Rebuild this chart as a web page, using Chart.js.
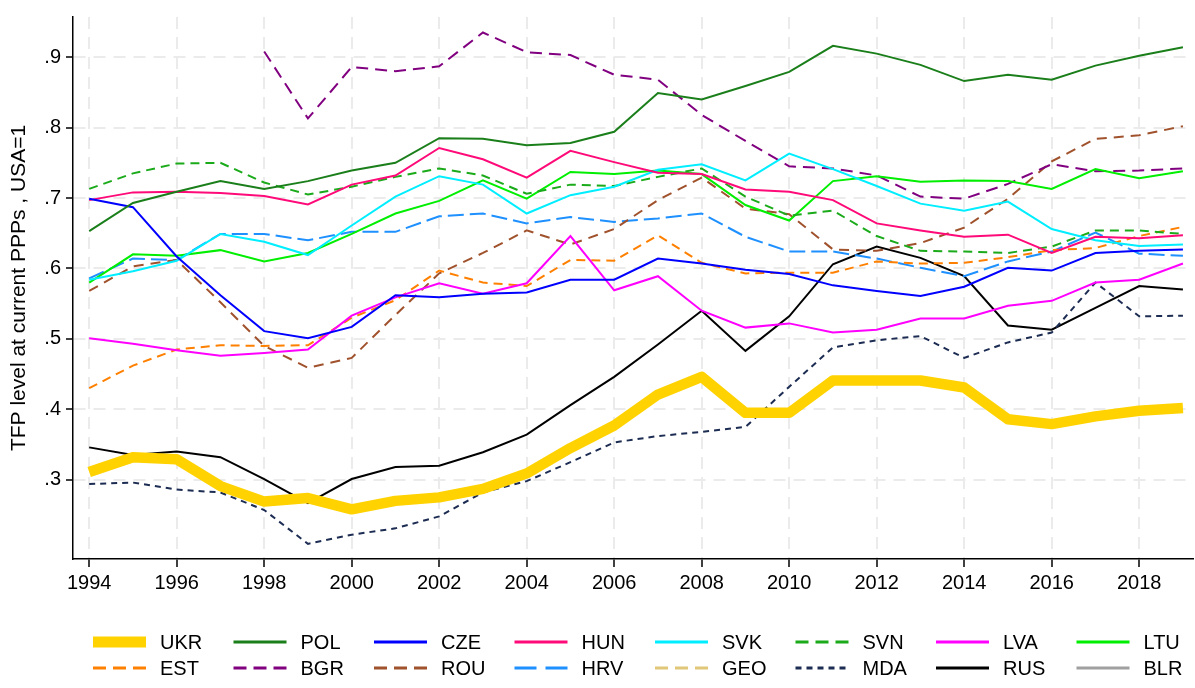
<!DOCTYPE html>
<html>
<head>
<meta charset="utf-8">
<script src="https://cdn.jsdelivr.net/npm/chart.js@4/dist/chart.umd.min.js"></script>
<style>
  body { margin: 0; background: #fff; }
  #wrap { width: 1195px; height: 688px; }
</style>
</head>
<body>
<div id="wrap"><canvas id="tfp" width="1195" height="688"></canvas></div>
<script>
// years and TFP levels (USA=1)
var years = [1994,1995,1996,1997,1998,1999,2000,2001,2002,2003,2004,2005,2006,
             2007,2008,2009,2010,2011,2012,2013,2014,2015,2016,2017,2018,2019];
var xTicks = [1994,1996,1998,2000,2002,2004,2006,2008,2010,2012,2014,2016,2018];
var yTicks = [0.3,0.4,0.5,0.6,0.7,0.8,0.9];

var ukr = [.311,.332,.329,.291,.269,.274,.258,.270,.275,.287,.309,.345,.377,.421,.446,.395,.395,.441,.441,.441,.431,.386,.379,.390,.398,.402];
var pol = [.653,.693,.709,.724,.713,.724,.739,.750,.785,.784,.775,.778,.794,.849,.840,.859,.879,.916,.905,.889,.866,.875,.868,.888,.902,.914];
var cze = [.699,.687,.617,.562,.511,.501,.517,.562,.559,.564,.566,.584,.584,.614,.607,.598,.592,.576,.568,.561,.574,.601,.597,.622,.625,.627];
var hun = [.697,.708,.709,.707,.703,.691,.719,.732,.771,.755,.729,.767,.751,.736,.734,.712,.709,.697,.664,.654,.645,.648,.622,.645,.643,.647];
var svk = [.584,.596,.611,.649,.638,.619,.661,.702,.731,.719,.678,.704,.716,.740,.748,.725,.763,.741,.717,.692,.682,.695,.656,.640,.632,.634];
var svn = [.713,.735,.749,.750,.722,.705,.716,.730,.742,.732,.706,.719,.717,.730,.742,.702,.675,.682,.646,.625,.624,.622,.631,.654,.654,.649];
var lva = [.501,.493,.484,.476,.480,.485,.533,.559,.579,.564,.579,.646,.569,.589,.540,.516,.522,.509,.513,.529,.529,.547,.554,.580,.584,.607];
var ltu = [.580,.620,.618,.626,.610,.622,.649,.678,.696,.725,.699,.737,.734,.739,.734,.690,.668,.724,.731,.723,.725,.724,.713,.741,.728,.738];
var est = [.430,.462,.485,.491,.490,.491,.530,.555,.597,.580,.575,.612,.611,.647,.608,.593,.594,.594,.610,.607,.608,.616,.626,.629,.646,.659];
var bgr = [null,null,null,null,.908,.813,.886,.880,.887,.935,.907,.903,.875,.868,.818,.781,.745,.742,.732,.702,.699,.720,.748,.738,.739,.742];
var rou = [.568,.603,.612,.552,.490,.459,.473,.534,.593,.622,.654,.634,.656,.697,.729,.685,.677,.627,.625,.636,.658,.699,.752,.784,.789,.802];
var hrv = [.586,.614,.612,.649,.649,.640,.652,.652,.674,.678,.664,.673,.666,.671,.678,.645,.624,.624,.614,.601,.589,.610,.624,.651,.621,.618];
var geo = [];
var mda = [.294,.296,.286,.282,.257,.209,.222,.231,.248,.282,.298,.325,.353,.362,.368,.375,.432,.488,.498,.504,.473,.495,.509,.580,.532,.533];
var rus = [.346,.335,.340,.332,.301,.267,.301,.318,.320,.339,.364,.406,.446,.492,.540,.483,.532,.606,.631,.615,.589,.519,.513,.544,.575,.570];
var blr = [];

var FONT = "'Liberation Sans', Arial, sans-serif";

function pts(vals) {
	var out = [];
	for (var i = 0; i < vals.length; i++) {
		out.push({x: years[i], y: vals[i]});
	}
	return out;
}

// keyDash = dash pattern used for the little legend sample
function series(label, vals, color, width, dash, keyDash) {
	return {
		label: label,
		data: pts(vals),
		borderColor: color,
		backgroundColor: color,
		borderWidth: width,
		borderDash: dash || [],
		keyDash: keyDash || [],
		borderCapStyle: 'butt',
		borderJoinStyle: width > 4 ? 'round' : 'miter',
		pointRadius: 0,
		tension: 0,
		spanGaps: false
	};
}

var d3 = [13, 7];
var datasets = [
	series('UKR', ukr, '#ffd200', 10.5),
	series('POL', pol, '#1a7f1a', 2),
	series('CZE', cze, '#0000ff', 2),
	series('HUN', hun, '#ff0a78', 2),
	series('SVK', svk, '#00eeff', 2),
	series('SVN', svn, '#1aaa1a', 2, [9, 6], d3),
	series('LVA', lva, '#ff00ff', 2),
	series('LTU', ltu, '#00ee00', 2),
	series('EST', est, '#ff8000', 2, [9, 6], d3),
	series('BGR', bgr, '#800080', 2, [12, 7], d3),
	series('ROU', rou, '#a0522d', 2, [10, 7], d3),
	series('HRV', hrv, '#1e90ff', 2, [16, 6], [22, 9]),
	series('GEO', geo, '#e0c878', 2, [12, 7], d3),
	series('MDA', mda, '#1c2c52', 2, [6, 5], [6, 5]),
	series('RUS', rus, '#000000', 2),
	series('BLR', blr, '#a0a0a0', 2)
];

// Stata-like legend: 2 rows x 8 columns under the plot
var gridLegend = {
	id: 'gridLegend',
	afterDraw: function(chart) {
		var ctx = chart.ctx;
		var sets = chart.data.datasets;
		ctx.save();
		ctx.font = '20px ' + FONT;
		ctx.fillStyle = '#000';
		ctx.textBaseline = 'middle';
		ctx.textAlign = 'left';
		for (var i = 0; i < sets.length; i++) {
			var col = i % 8, row = Math.floor(i / 8);
			var x0 = 93 + col * 140.5;
			var y0 = 642 + row * 26;
			var ds = sets[i];
			ctx.beginPath();
			ctx.strokeStyle = ds.borderColor;
			ctx.lineWidth = ds.borderWidth > 4 ? 11 : 3;
			ctx.setLineDash(ds.keyDash);
			ctx.lineCap = 'butt';
			ctx.moveTo(x0, y0);
			ctx.lineTo(x0 + 53, y0);
			ctx.stroke();
			ctx.setLineDash([]);
			ctx.fillText(ds.label, x0 + 67, y0 + 1);
		}
		ctx.restore();
	}
};

var ctx = document.getElementById('tfp');
var myChart = new Chart(ctx, {
	type: 'line',
	data: { datasets: datasets },
	options: {
		responsive: false,
		animation: false,
		layout: { padding: { left: 0, top: 7, right: 2, bottom: 0 } },
		plugins: {
			legend: { display: false },
			tooltip: { enabled: false }
		},
		scales: {
			x: {
				type: 'linear',
				min: 1993.63,
				max: 2019.23,
				afterBuildTicks: function(scale) {
					scale.ticks = xTicks.map(function(v) { return {value: v}; });
				},
				afterFit: function(scale) { scale.height = 129; },
				grid: { color: '#ebebeb', lineWidth: 2, tickLength: 8, tickColor: '#000', tickWidth: 1.5 },
				border: { color: '#000', width: 1.5, dash: [12, 8] },
				ticks: {
					color: '#000',
					padding: 4,
					maxRotation: 0,
					font: { family: FONT, size: 20 },
					callback: function(v) { return String(v); }
				}
			},
			y: {
				min: 0.1875,
				max: 0.957,
				afterBuildTicks: function(scale) {
					scale.ticks = yTicks.map(function(v) { return {value: v}; });
				},
				afterFit: function(scale) { scale.width = 73; },
				grid: { color: '#ebebeb', lineWidth: 2, tickLength: 7, tickColor: '#000', tickWidth: 1.5 },
				border: { color: '#000', width: 1.5, dash: [12, 8] },
				title: {
					display: true,
					text: 'TFP level at current PPPs , USA=1',
					color: '#000',
					font: { family: FONT, size: 21 },
					padding: { top: 7, bottom: 0 }
				},
				ticks: {
					color: '#000',
					padding: 5,
					font: { family: FONT, size: 20 },
					callback: function(v) { return String(Math.round(v * 10) / 10).replace(/^0/, ''); }
				}
			}
		}
	},
	plugins: [gridLegend]
});
</script>
</body>
</html>
